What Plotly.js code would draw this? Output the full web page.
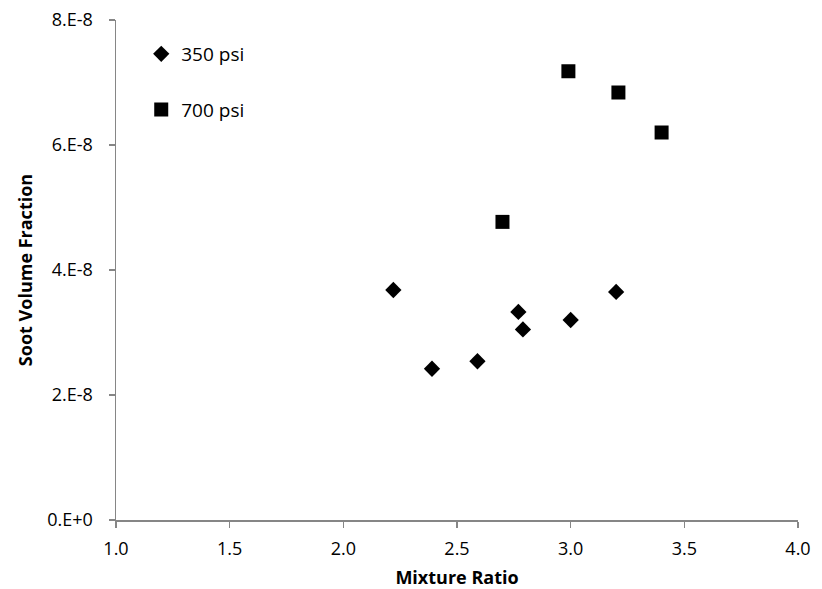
<!DOCTYPE html>
<html>
<head>
<meta charset="utf-8">
<script src="https://cdn.plot.ly/plotly-3.0.1.min.js"></script>
<style>html,body{margin:0;padding:0;background:#fff;}#chart{width:822px;height:589px;}</style>
</head>
<body>
<div id="chart"></div>
<script>
// Data
const ratio350 = [2.22, 2.39, 2.59, 2.77, 2.79, 3.00, 3.20];
const soot350  = [3.68e-8, 2.42e-8, 2.54e-8, 3.33e-8, 3.05e-8, 3.20e-8, 3.65e-8];
const ratio700 = [2.70, 2.99, 3.21, 3.40];
const soot700  = [4.77e-8, 7.18e-8, 6.84e-8, 6.20e-8];
const yTickVals = [0, 2e-8, 4e-8, 6e-8, 8e-8];
const yTickText = ['0.E+0', '2.E-8', '4.E-8', '6.E-8', '8.E-8'];
const xTickVals = [1.0, 1.5, 2.0, 2.5, 3.0, 3.5, 4.0];

const font = 'Open Sans';

const traces = [
  {x: ratio350, y: soot350, mode: 'markers', type: 'scatter', name: '350 psi',
   legendgroup: 'a', marker: {symbol: 'diamond', size: 12.5, color: '#000'}},
  {x: ratio700, y: soot700, mode: 'markers', type: 'scatter', name: '700 psi',
   legendgroup: 'b', marker: {symbol: 'square', size: 14, color: '#000'}}
];

const axisCommon = {
  showgrid: false, zeroline: false, showline: true, linecolor: '#868686', linewidth: 1.5,
  ticks: 'outside', ticklen: 6, tickcolor: '#868686', tickwidth: 1.5,
  tickfont: {family: font, size: 18, color: '#000'}
};

const layout = {
  width: 822, height: 589,
  margin: {l: 116, r: 24, t: 20, b: 69},
  paper_bgcolor: '#fff', plot_bgcolor: '#fff',
  font: {family: font, size: 18, color: '#000'},
  xaxis: Object.assign({}, axisCommon, {
    range: [1, 4], tickvals: xTickVals, tickformat: '.1f', ticklabelstandoff: 6,
    title: {text: '<b>Mixture Ratio</b>', font: {family: font, size: 18, color: '#000'}, standoff: 15}
  }),
  yaxis: Object.assign({}, axisCommon, {
    range: [0, 8e-8], tickvals: yTickVals, ticktext: yTickText, ticklabelstandoff: 12,
    title: {text: '<b>Soot Volume Fraction</b>', font: {family: font, size: 18, color: '#000'}, standoff: 10}
  }),
  showlegend: true,
  legend: {x: 0.037, y: 0.97, xanchor: 'left', yanchor: 'top', bgcolor: 'rgba(0,0,0,0)',
           font: {family: font, size: 19, color: '#000'}, tracegroupgap: 28}
};

Plotly.newPlot('chart', traces, layout, {displayModeBar: false, staticPlot: true});
</script>
</body>
</html>
